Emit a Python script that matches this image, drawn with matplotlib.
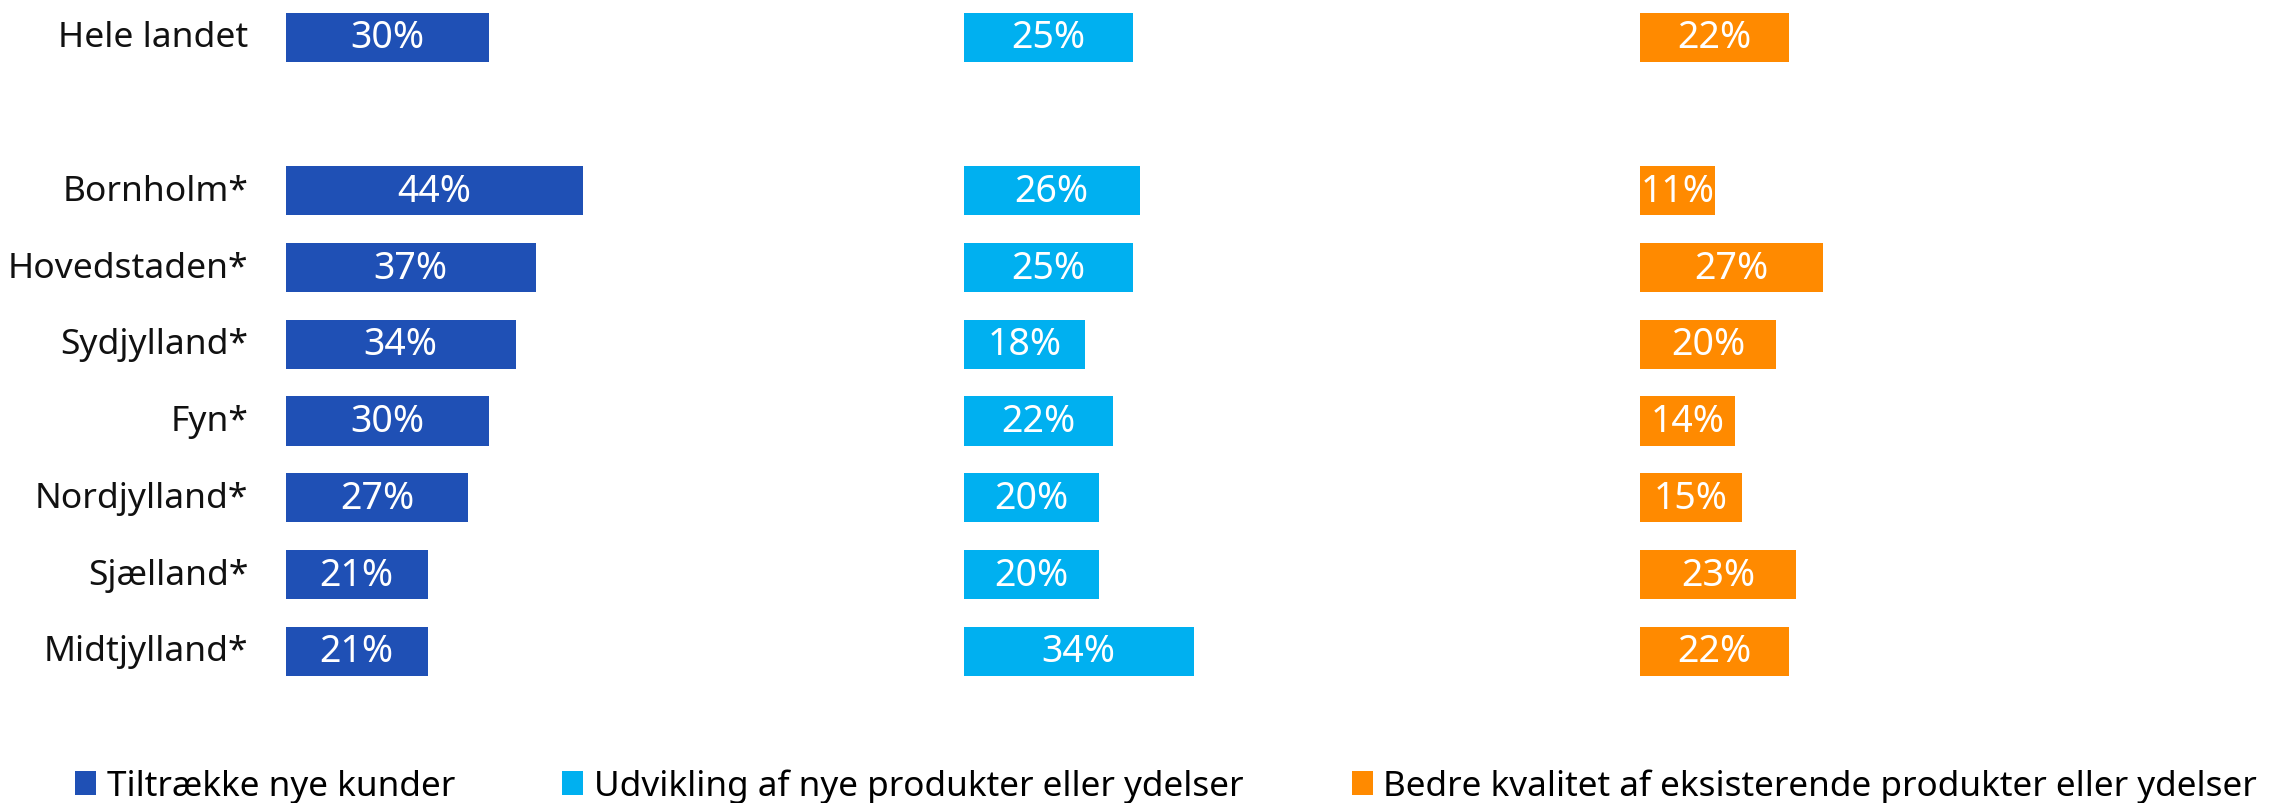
import matplotlib
matplotlib.use("Agg")
import matplotlib.pyplot as plt
from matplotlib.patches import Patch

plt.rcParams.update({
    "font.family": ["Noto Sans", "DejaVu Sans"],
    "figure.dpi": 100,
})

# data
regions = ["Hele landet", "", "Bornholm*", "Hovedstaden*", "Sydjylland*", "Fyn*",
           "Nordjylland*", "Sjælland*", "Midtjylland*"]
kunder = [30, None, 44, 37, 34, 30, 27, 21, 21]
udvikling = [25, None, 26, 25, 18, 22, 20, 20, 34]
kvalitet = [22, None, 11, 27, 20, 14, 15, 23, 22]

series_names = ["Tiltrække nye kunder",
                "Udvikling af nye produkter eller ydelser",
                "Bedre kvalitet af eksisterende produkter eller ydelser"]
colors = ["#1F50B5", "#00B0F0", "#FF8A00"]

fig = plt.figure(figsize=(22.72, 8.04))

panel_left = [0.1257, 0.4241, 0.7220]
full_w = 0.298  # figure width of 0 - 100 %
ax_bottom, ax_h = 0.141, 0.859

for i, vals in enumerate([kunder, udvikling, kvalitet]):
    w = min(full_w, 1.0 - panel_left[i])
    ax = fig.add_axes([panel_left[i], ax_bottom, w, ax_h])
    ys = [k for k, v in enumerate(vals) if v is not None]
    vs = [v for v in vals if v is not None]
    ax.barh(ys, vs, height=0.64, color=colors[i])
    for y, v in zip(ys, vs):
        ax.text(v / 2, y, f"{v}%", ha="center", va="center",
                color="white", fontsize=27)
    ax.set_xlim(0, 100 * w / full_w)
    ax.set_ylim(len(regions) - 0.5, -0.5)
    ax.axis("off")
    if i == 0:
        for k, name in enumerate(regions):
            if name:
                ax.text(-5.5, k, name, ha="right", va="center", fontsize=25.5,
                        color="#111111")

# legend, one per series
leg_x = [0.033, 0.2474, 0.595]
for i in range(3):
    h = Patch(facecolor=colors[i], edgecolor="none")
    fig.legend([h], [series_names[i]], loc="center left",
               bbox_to_anchor=(leg_x[i], 0.021), frameon=False,
               fontsize=25.3, handlelength=0.6, handleheight=0.65,
               handletextpad=0.3, borderpad=0, borderaxespad=0)

fig.savefig("out.png", dpi=100, facecolor="white")
